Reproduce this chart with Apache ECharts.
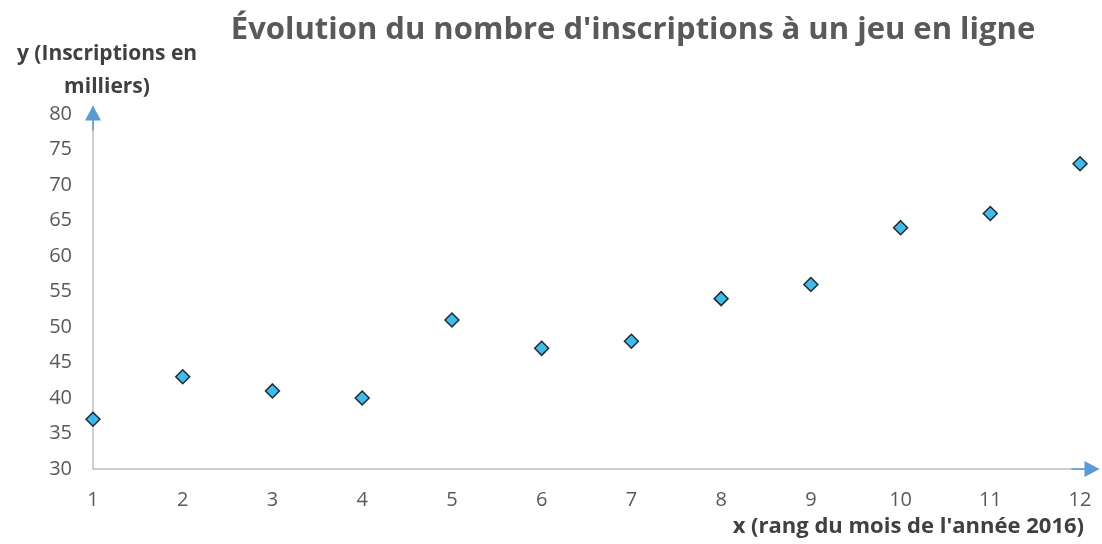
<!DOCTYPE html>
<html><head><meta charset="utf-8">
<script src="https://cdn.jsdelivr.net/npm/echarts@6/dist/echarts.min.js"></script>
<style>html,body{margin:0;padding:0;background:#fff}#c{width:1102px;height:544px}</style>
</head><body><div id="c"></div>
<script>
const months = [1,2,3,4,5,6,7,8,9,10,11,12];
const inscriptions = [37,43,41,40,51,47,48,54,56,64,66,73];
const titleText = "Évolution du nombre d'inscriptions à un jeu en ligne";
const yName = "y (Inscriptions en\nmilliers)";
const xName = "x (rang du mois de l'année 2016)";

const chart = echarts.init(document.getElementById('c'));
const font = "'Open Sans', sans-serif";
const gray = '#bfbfbf', blue = '#5b9bd5';
const hiddenAxis = {show: false, min: 0, max: 1};
chart.setOption({
  animation: false,
  title: [
    {text: titleText, left: 628, top: 10, textAlign: 'center',
     textStyle: {fontFamily: font, fontSize: 31, fontWeight: 'bold', color: '#595959'}},
    {text: yName, left: 102, top: 33, textAlign: 'center',
     textStyle: {fontFamily: font, fontSize: 21, fontWeight: 'bold', color: '#404040', lineHeight: 33, align: 'center'}},
    {text: xName, right: 13, top: 511,
     textStyle: {fontFamily: font, fontSize: 22, fontWeight: 'bold', color: '#404040'}}
  ],
  grid: [
    {left: 93, right: 4, top: 107, bottom: 75},
    {left: 1072, right: 10, top: 107, bottom: 75},
    {left: 93, right: 4, top: 113, height: 17}
  ],
  xAxis: [
    {
      gridIndex: 0, type: 'value', min: 1, max: 12.2, interval: 1,
      axisLine: {lineStyle: {color: gray, width: 1.5}},
      axisTick: {show: false}, splitLine: {show: false},
      axisLabel: {fontFamily: font, fontSize: 20, color: '#595959', margin: 21,
        formatter: v => Number.isInteger(v) ? String(v) : ''}
    },
    {
      gridIndex: 1, type: 'value', min: 0, max: 1,
      axisLine: {lineStyle: {color: blue, width: 1.5}, symbol: ['none', 'triangle'], symbolSize: [16, 15]},
      axisTick: {show: false}, splitLine: {show: false}, axisLabel: {show: false}
    },
    Object.assign({gridIndex: 2, type: 'value'}, hiddenAxis)
  ],
  yAxis: [
    {
      gridIndex: 0, type: 'value', min: 30, max: 81, interval: 5,
      axisLine: {show: true, lineStyle: {color: gray, width: 1.5}},
      axisTick: {show: false}, splitLine: {show: false},
      axisLabel: {fontFamily: font, fontSize: 20, color: '#595959', margin: 21,
        formatter: v => v % 5 === 0 ? String(v) : ''}
    },
    Object.assign({gridIndex: 1, type: 'value'}, hiddenAxis),
    {
      gridIndex: 2, type: 'value', min: 0, max: 1,
      axisLine: {show: true, lineStyle: {color: blue, width: 1.5}, symbol: ['none', 'triangle'], symbolSize: [16, 15]},
      axisTick: {show: false}, splitLine: {show: false}, axisLabel: {show: false}
    }
  ],
  series: [{
    type: 'scatter', xAxisIndex: 0, yAxisIndex: 0,
    symbol: 'diamond', symbolSize: 14,
    itemStyle: {color: '#0ea9e6', borderColor: '#000', borderWidth: 1.5},
    data: months.map((m, i) => [m, inscriptions[i]])
  }]
});
</script></body></html>
